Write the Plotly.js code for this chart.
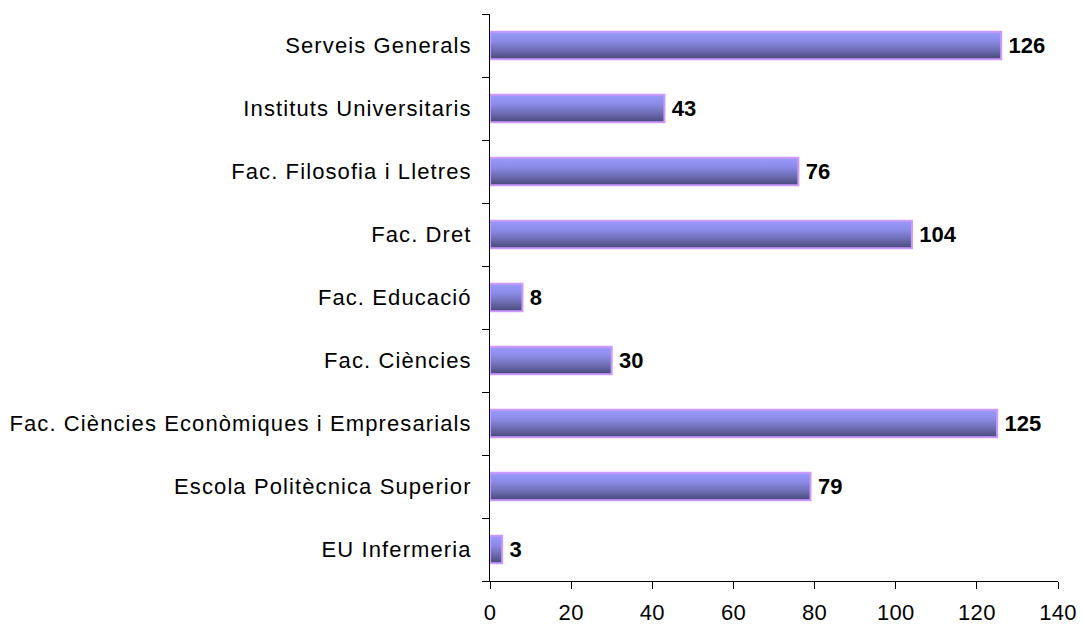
<!DOCTYPE html>
<html>
<head>
<meta charset="utf-8">
<script src="https://cdn.plot.ly/plotly-3.0.1.min.js"></script>
<style>
  html, body { margin: 0; padding: 0; background: #fff; }
  #chart { width: 1083px; height: 624px; }
  .ytick text { letter-spacing: 1.1px; }
  .xtick text { letter-spacing: 0.3px; }
  .bars .textpoint text { letter-spacing: 0.6px; }
</style>
</head>
<body>
<div id="chart"></div>
<script>
const categories = [
  "EU Infermeria",
  "Escola Politècnica Superior",
  "Fac. Ciències Econòmiques i Empresarials",
  "Fac. Ciències",
  "Fac. Educació",
  "Fac. Dret",
  "Fac. Filosofia i Lletres",
  "Instituts Universitaris",
  "Serveis Generals"
];
const values = [3, 79, 125, 30, 8, 104, 76, 43, 126];
const xTicks = [0, 20, 40, 60, 80, 100, 120, 140];

const font = "'Liberation Sans', Arial, sans-serif";

const trace = {
  type: "bar",
  orientation: "h",
  y: categories,
  x: values,
  width: 0.44,
  marker: { color: "#7f7fd6", line: { color: "#cc99ff", width: 2 } },
  text: values.map(v => "\u2009" + String(v)),
  textposition: "outside",
  cliponaxis: false,
  textfont: { family: font, size: 22, color: "#000", weight: "bold" },
  hoverinfo: "none"
};

const layout = {
  width: 1083,
  height: 624,
  margin: { l: 490, r: 25, t: 14, b: 43, pad: 0 },
  paper_bgcolor: "#ffffff",
  plot_bgcolor: "#ffffff",
  showlegend: false,
  font: { family: font, size: 22, color: "#000" },
  xaxis: {
    range: [0, 140],
    tickvals: xTicks,
    ticktext: xTicks.map(String),
    ticks: "outside",
    ticklen: 7,
    tickcolor: "#000",
    tickwidth: 1,
    showline: true,
    linecolor: "#000",
    linewidth: 1,
    showgrid: false,
    zeroline: false,
    fixedrange: true,
    ticklabelstandoff: 5,
    tickfont: { family: font, size: 22, color: "#000" }
  },
  yaxis: {
    type: "category",
    categoryorder: "array",
    categoryarray: categories,
    tickson: "boundaries",
    ticks: "outside",
    ticklen: 7,
    tickcolor: "#000",
    tickwidth: 1,
    showline: true,
    linecolor: "#000",
    linewidth: 1,
    showgrid: false,
    zeroline: false,
    fixedrange: true,
    ticklabelstandoff: 13,
    tickfont: { family: font, size: 22, color: "#000" }
  }
};

Plotly.newPlot("chart", [trace], layout, { staticPlot: true, displayModeBar: false }).then(function (gd) {
  const svg = gd.querySelector(".main-svg");
  const ns = "http://www.w3.org/2000/svg";
  let defs = svg.querySelector("defs");
  if (!defs) { defs = document.createElementNS(ns, "defs"); svg.insertBefore(defs, svg.firstChild); }
  const grad = document.createElementNS(ns, "linearGradient");
  grad.setAttribute("id", "barGrad");
  grad.setAttribute("x1", "0"); grad.setAttribute("y1", "0");
  grad.setAttribute("x2", "0"); grad.setAttribute("y2", "1");
  [["0", "#9b9bff"], ["0.35", "#8a8ae6"], ["0.7", "#6a6aae"], ["1", "#47477a"]].forEach(function (s) {
    const st = document.createElementNS(ns, "stop");
    st.setAttribute("offset", s[0]);
    st.setAttribute("stop-color", s[1]);
    grad.appendChild(st);
  });
  defs.appendChild(grad);
  gd.querySelectorAll(".bars .point path").forEach(function (p) {
    p.style.fill = "url(#barGrad)";
    p.style.fillOpacity = "1";
  });
});
</script>
</body>
</html>
